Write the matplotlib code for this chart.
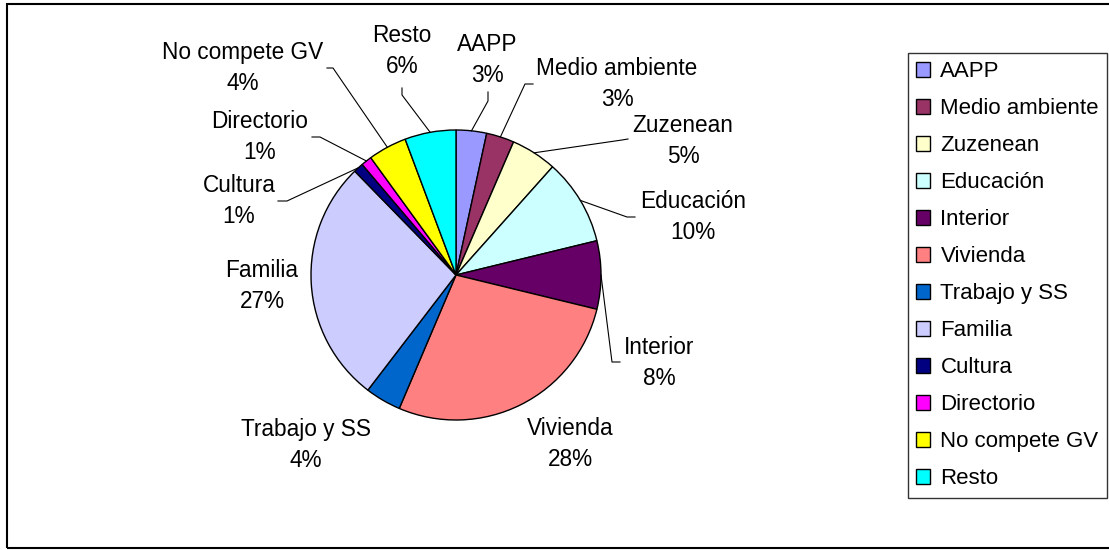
import numpy as np
import matplotlib.pyplot as plt
from matplotlib.patches import Rectangle

plt.rcParams['font.family'] = ['Liberation Sans', 'DejaVu Sans']

# Data (share of complaints by area)
categories = ['AAPP', 'Medio ambiente', 'Zuzenean', 'Educación', 'Interior',
              'Vivienda', 'Trabajo y SS', 'Familia', 'Cultura', 'Directorio',
              'No compete GV', 'Resto']
values = [3.4, 3.1, 5.1, 9.6, 7.6, 27.6, 4.0, 27.3, 1.1, 1.2, 4.3, 5.7]
colors = ['#9999FF', '#993366', '#FFFFCC', '#CCFFFF', '#660066', '#FF8080',
          '#0066CC', '#CCCCFF', '#000080', '#FF00FF', '#FFFF00', '#00FFFF']

W, H = 1109, 550
fig = plt.figure(figsize=(W / 100, H / 100), dpi=100)
ax = fig.add_axes([0, 0, 1, 1])

cx, cy, R = 456, H - 275, 145
wedges, _ = ax.pie(values, colors=colors, startangle=90, counterclock=False,
                   center=(cx, cy), radius=R,
                   wedgeprops=dict(edgecolor='black', linewidth=1))
ax.set_xlim(0, W)
ax.set_ylim(0, H)
ax.axis('off')

# label block centres (pixels from top-left) and leader line start/elbow
label_pos = [(487, 60), (617, 84), (683, 141), (693, 217), (659, 363),
             (570, 444), (306, 445), (262, 286), (239, 201), (260, 137),
             (243, 68), (402, 51)]
leaders = {
    0: [(488, 92), (488, 101)],
    1: [(533, 84), (525, 84)],
    2: [(628, 139), (622, 140)],
    3: [(635, 217), (627, 217)],
    4: [(620, 362), (612, 362)],
    8: [(278, 201), (287, 201)],
    9: [(312, 137), (320, 137)],
    10: [(327, 68), (333, 68)],
    11: [(402, 88), (402, 95)],
}

total = sum(values)
for i, (name, v, w) in enumerate(zip(categories, values, wedges)):
    x, y = label_pos[i]
    ax.text(x, H - y, f"{name}\n{v / total * 100:.0f}%", ha='center',
            va='center', fontsize=16.3, linespacing=1.42)
    if i in leaders:
        mid = np.deg2rad((w.theta1 + w.theta2) / 2)
        ex, ey = cx + R * np.cos(mid), cy + R * np.sin(mid)
        pts = [(px, H - py) for px, py in leaders[i]] + [(ex, ey)]
        ax.plot([p[0] for p in pts], [p[1] for p in pts], color='black',
                linewidth=0.8)

leg = fig.legend(wedges, categories, loc='upper left',
                 bbox_to_anchor=(908 / W, 1 - 53 / H), borderaxespad=0,
                 fontsize=16, frameon=True, fancybox=False, edgecolor='black',
                 handlelength=0.63, handleheight=0.63, handletextpad=0.45,
                 borderpad=0.38, labelspacing=0.72)
leg.get_frame().set_linewidth(1)

# outer chart border
fig.add_artist(Rectangle((7 / W, 1 - 548 / H), 1.1, (548 - 4) / H,
                         transform=fig.transFigure, fill=False,
                         edgecolor='black', linewidth=1.5))

fig.savefig('out.png', dpi=100)
